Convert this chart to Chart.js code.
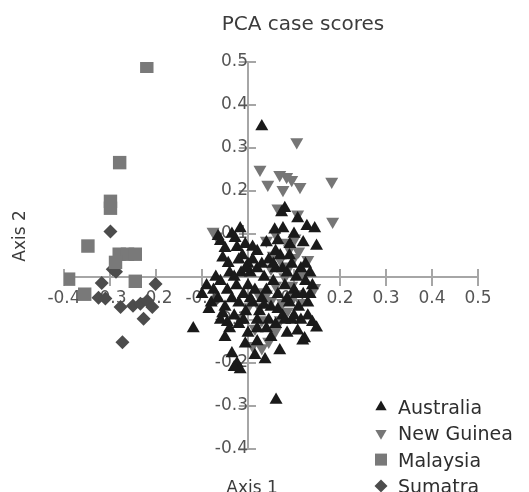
<!DOCTYPE html>
<html>
<head>
<meta charset="utf-8">
<script src="https://cdn.jsdelivr.net/npm/chart.js@4.4.1/dist/chart.umd.min.js"></script>
<style>
  body { margin: 0; background: #fff; }
</style>
</head>
<body>
<canvas id="pcaChart" width="529" height="492"></canvas>
<script>
const groups = ['Australia', 'New Guinea', 'Malaysia', 'Sumatra']

// case scores, [axis 1, axis 2]
const australia = [
    [-0.017, 0.113], [-0.028, 0.09], [-0.06, 0.083], [-0.006, 0.076], [-0.05, 0.067], [-0.024, 0.069],
    [-0.043, 0.032], [0.0, 0.03], [-0.035, 0.1], [-0.065, 0.095], [-0.012, 0.05], [-0.055, 0.045],
    [0.03, 0.35], [0.08, 0.16], [0.073, 0.15], [0.058, 0.11], [0.076, 0.113], [0.108, 0.136],
    [0.128, 0.118], [0.145, 0.113], [0.149, 0.072], [0.091, 0.076], [0.1, 0.1], [0.065, 0.085], [0.12, 0.08],
    [-0.1, -0.04], [-0.09, -0.02], [-0.08, -0.06], [-0.075, -0.03], [-0.065, -0.05], [-0.06, -0.01],
    [-0.05, -0.07], [-0.045, -0.03], [-0.04, 0.01], [-0.035, -0.05], [-0.03, -0.09], [-0.025, -0.02],
    [-0.02, -0.06], [-0.015, 0.01], [-0.01, -0.04], [-0.005, -0.08], [0.0, -0.02], [0.005, 0.01],
    [0.01, -0.06], [0.015, -0.03], [0.02, 0.02], [0.025, -0.08], [0.03, -0.05], [0.035, 0.0],
    [0.04, -0.03], [0.045, 0.04], [0.05, -0.07], [0.055, -0.01], [0.06, 0.02], [0.065, -0.04],
    [0.07, 0.05], [0.075, -0.09], [0.08, -0.02], [0.085, 0.01], [0.09, -0.06], [0.095, 0.03],
    [0.1, -0.03], [0.105, 0.0], [0.11, -0.07], [0.115, 0.02], [0.12, -0.04], [0.125, -0.01],
    [0.13, -0.06], [0.135, 0.01], [0.14, -0.02], [0.02, 0.06], [0.04, 0.08], [0.01, 0.04],
    [-0.02, 0.04], [0.06, 0.06],
    [-0.085, -0.075], [-0.07, 0.0], [-0.055, -0.085], [-0.03, 0.0], [-0.01, -0.1], [0.005, -0.05],
    [0.02, -0.12], [0.035, -0.065], [0.045, -0.1], [0.055, 0.03], [0.065, -0.075], [0.075, 0.02],
    [0.085, -0.05], [0.095, -0.1], [0.105, -0.04], [0.115, -0.1], [0.125, 0.03], [0.135, -0.04],
    [0.01, 0.07], [-0.045, -0.105], [0.03, 0.03], [-0.005, 0.02], [0.09, 0.05],
    [-0.119, -0.12], [-0.06, -0.1], [-0.04, -0.12], [-0.02, -0.11], [0.0, -0.13], [0.02, -0.1],
    [0.04, -0.12], [0.06, -0.11], [0.08, -0.1], [0.1, -0.09], [0.13, -0.09], [0.14, -0.105],
    [0.108, -0.125], [0.123, -0.143], [0.149, -0.118], [0.119, -0.148], [0.069, -0.171], [0.05, -0.14],
    [0.02, -0.15], [-0.006, -0.155], [-0.035, -0.178], [0.015, -0.182], [0.037, -0.192], [-0.024, -0.201],
    [-0.017, -0.215], [-0.03, -0.21], [0.061, -0.286], [0.085, -0.13], [-0.05, -0.14]
]

const newGuinea = [
    [0.106, 0.314], [0.026, 0.25], [0.043, 0.215], [0.069, 0.238], [0.084, 0.233], [0.076, 0.203],
    [0.095, 0.226], [0.113, 0.21], [0.182, 0.222], [0.184, 0.129], [0.065, 0.16], [0.108, 0.146],
    [-0.076, 0.106], [-0.068, 0.095], [0.102, 0.09], [0.09, 0.065], [0.145, -0.025], [0.07, 0.04],
    [0.1, 0.045], [0.08, 0.0], [0.06, -0.02], [0.1, -0.045], [0.05, -0.055], [0.085, -0.08],
    [0.03, -0.1], [0.06, -0.125], [0.045, -0.15], [0.015, -0.12], [0.0, -0.07], [0.12, 0.005],
    [0.115, -0.06], [0.07, -0.1], [0.09, 0.025], [0.05, 0.02], [0.02, -0.035], [0.03, -0.165],
    [0.01, -0.16], [-0.02, -0.095], [0.04, -0.04], [0.04, 0.085], [0.06, 0.1], [0.13, 0.04], [0.11, 0.06],
    [0.075, -0.06], [0.095, -0.02], [0.055, 0.05], [0.025, -0.07], [0.085, 0.08]
]

const malaysia = [
    [-0.22, 0.49], [-0.279, 0.266], [-0.299, 0.176], [-0.299, 0.16], [-0.348, 0.072],
    [-0.28, 0.053], [-0.262, 0.053], [-0.245, 0.053], [-0.288, 0.034], [-0.39, -0.005],
    [-0.245, -0.01], [-0.355, -0.04]
]

const sumatra = [
    [-0.299, 0.106], [-0.294, 0.018], [-0.287, 0.012], [-0.318, -0.014], [-0.201, -0.016],
    [-0.325, -0.048], [-0.31, -0.05], [-0.277, -0.07], [-0.25, -0.067], [-0.234, -0.062],
    [-0.219, -0.055], [-0.208, -0.07], [-0.227, -0.097], [-0.273, -0.152], [-0.07, -0.052]
]

const axisMin = -0.4
const axisMax = 0.5
const tickStep = 0.1

const markers = [
    { color: '#1a1a1a', style: 'triangle', rotation: 0, radius: 7.5 },
    { color: '#767676', style: 'triangle', rotation: 180, radius: 7.5 },
    { color: '#797979', style: 'rect', rotation: 0, radius: 9.5 },
    { color: '#4c4c4c', style: 'rectRot', rotation: 0, radius: 7 }
]

const series = [australia, newGuinea, malaysia, sumatra]

const FONT = '"DejaVu Sans", sans-serif'
const axisGray = '#a6a6a6'

const datasets = series.map((pts, i) => ({
    label: groups[i],
    data: pts.map(p => ({ x: p[0], y: p[1] })),
    xAxisID: 'x',
    yAxisID: 'y',
    pointStyle: markers[i].style,
    rotation: markers[i].rotation,
    pointRadius: markers[i].radius,
    pointBackgroundColor: markers[i].color,
    pointBorderWidth: 0,
    showLine: false
}))

const tickLabel = (v) => Math.abs(v) < 1e-9 ? '' : v.toFixed(1)

const mainAxis = (pos) => ({
    type: 'linear',
    min: axisMin,
    max: axisMax,
    position: pos,
    grid: { drawOnChartArea: false, drawTicks: true, tickLength: 8, color: axisGray, lineWidth: 2 },
    border: { display: true, color: axisGray, width: 2 },
    ticks: {
        stepSize: tickStep,
        autoSkip: false,
        maxRotation: 0,
        padding: 3,
        color: '#555',
        font: { family: FONT, size: 17 },
        callback: tickLabel
    }
})

// second copy of each axis only for the half of the tick marks on the other side
const innerTicks = (pos) => ({
    type: 'linear',
    min: axisMin,
    max: axisMax,
    position: pos,
    grid: { drawOnChartArea: false, drawTicks: true, tickLength: -8, color: axisGray, lineWidth: 2 },
    border: { display: false },
    ticks: { stepSize: tickStep, display: false }
})

const labels = {
    id: 'labels',
    afterDraw (chart) {
        const { ctx } = chart
        ctx.save()
        ctx.fillStyle = '#3c3c3c'
        ctx.textAlign = 'center'
        ctx.textBaseline = 'alphabetic'
        ctx.font = `20px ${FONT}`
        ctx.fillText('PCA case scores', 303, 30)

        ctx.font = `17px ${FONT}`
        ctx.fillText('Axis 1', 252, 493)
        ctx.save()
        ctx.translate(25, 236)
        ctx.rotate(-Math.PI / 2)
        ctx.fillText('Axis 2', 0, 0)
        ctx.restore()

        // legend, bottom right
        ctx.textAlign = 'left'
        ctx.font = `19px ${FONT}`
        chart.data.datasets.forEach((ds, i) => {
            const cy = 407 + i * 26.3
            ctx.fillStyle = markers[i].color
            Chart.helpers.drawPoint(ctx, {
                pointStyle: ds.pointStyle,
                rotation: ds.rotation,
                radius: i === 2 ? 8.5 : 6.5,
                borderWidth: 0
            }, 381, cy)
            ctx.fillStyle = '#2e2e2e'
            ctx.fillText(ds.label, 398, cy + 7)
        })
        ctx.restore()
    }
}

const pcaChart = new Chart(document.getElementById('pcaChart'), {
    type: 'scatter',
    data: { datasets },
    options: {
        responsive: false,
        animation: false,
        events: [],
        layout: { padding: { left: 64, right: 51, top: 62, bottom: 43 } },
        scales: {
            x: mainAxis({ y: 0 }),
            y: mainAxis({ x: 0 }),
            x2: innerTicks({ y: 0 }),
            y2: innerTicks({ x: 0 })
        },
        plugins: {
            legend: { display: false },
            title: { display: false },
            tooltip: { enabled: false }
        }
    },
    plugins: [labels]
})
</script>
</body>
</html>
